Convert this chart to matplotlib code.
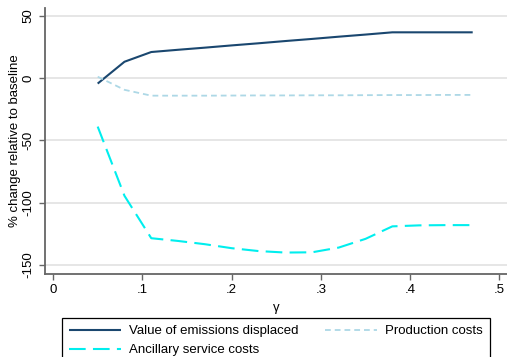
import matplotlib
matplotlib.use("Agg")
import matplotlib.pyplot as plt

# gamma values and % change relative to baseline
gamma = [0.05, 0.08, 0.11, 0.14, 0.17, 0.20, 0.23, 0.26, 0.29, 0.32, 0.35, 0.38, 0.41, 0.44, 0.47]
emissions = [-4.5, 13.0, 20.8, 22.6, 24.3, 26.1, 27.8, 29.6, 31.3, 33.1, 34.8, 36.6, 36.6, 36.6, 36.6]
production = [1.0, -9.5, -14.2, -14.2, -14.2, -14.1, -14.0, -14.0, -13.9, -13.9, -13.8, -13.7, -13.7, -13.6, -13.6]
ancillary = [-39.0, -94.5, -128.5, -130.7, -133.3, -136.5, -138.8, -140.0, -139.8, -136.0, -129.0, -119.0, -118.2, -118.0, -118.0]

xticks = [0, 0.1, 0.2, 0.3, 0.4, 0.5]
xtick_labels = ["0", ".1", ".2", ".3", ".4", ".5"]
yticks = [-150, -100, -50, 0, 50]

plt.rcParams["font.family"] = ["Liberation Sans", "DejaVu Sans"]
plt.rcParams["font.size"] = 9.5

fig = plt.figure(figsize=(5.07, 3.57), dpi=100)
ax = fig.add_axes([45 / 507, 1 - 274 / 357, 1 - 45 / 507, 266 / 357])

l1, = ax.plot(gamma, emissions, color="#1a476f", lw=1.5, solid_capstyle="butt")
l2, = ax.plot(gamma, production, color="#add8e6", lw=1.3, dashes=(3.2, 2.2))
l3, = ax.plot(gamma, ancillary, color="#00eeee", lw=1.5, dashes=(8, 3.5))

ax.set_xlim(-0.009, 0.5084)
ax.set_ylim(-157.2, 56.1)
ax.set_xticks(xticks)
ax.set_xticklabels(xtick_labels)
ax.set_yticks(yticks)
ax.set_yticklabels([str(v) for v in yticks], rotation=90, va="center")

ax.grid(axis="y", color="#e2e2e2", lw=1.2)
ax.set_axisbelow(True)
for s in ["top", "right"]:
    ax.spines[s].set_visible(False)
for s in ["left", "bottom"]:
    ax.spines[s].set_color("#666666")
    ax.spines[s].set_linewidth(1.3)
ax.tick_params(length=4.5, width=1, color="#666666", pad=3)

ax.set_xlabel("\u03b3", labelpad=4)
ax.set_ylabel("% change relative to baseline", labelpad=1)

fig.legend([l1, l3, l2],
           ["Value of emissions displaced", "Ancillary service costs", "Production costs"],
           ncol=2, loc="upper left", bbox_to_anchor=(62 / 507, 1 - 318 / 357),
           bbox_transform=fig.transFigure, frameon=True, fancybox=False,
           edgecolor="black", framealpha=1, handlelength=3.9, handletextpad=0.65,
           columnspacing=2.0, borderpad=0.55, labelspacing=0.5, borderaxespad=0)
fig.legends[0].get_frame().set_linewidth(0.9)

fig.savefig("out.png", dpi=100)
